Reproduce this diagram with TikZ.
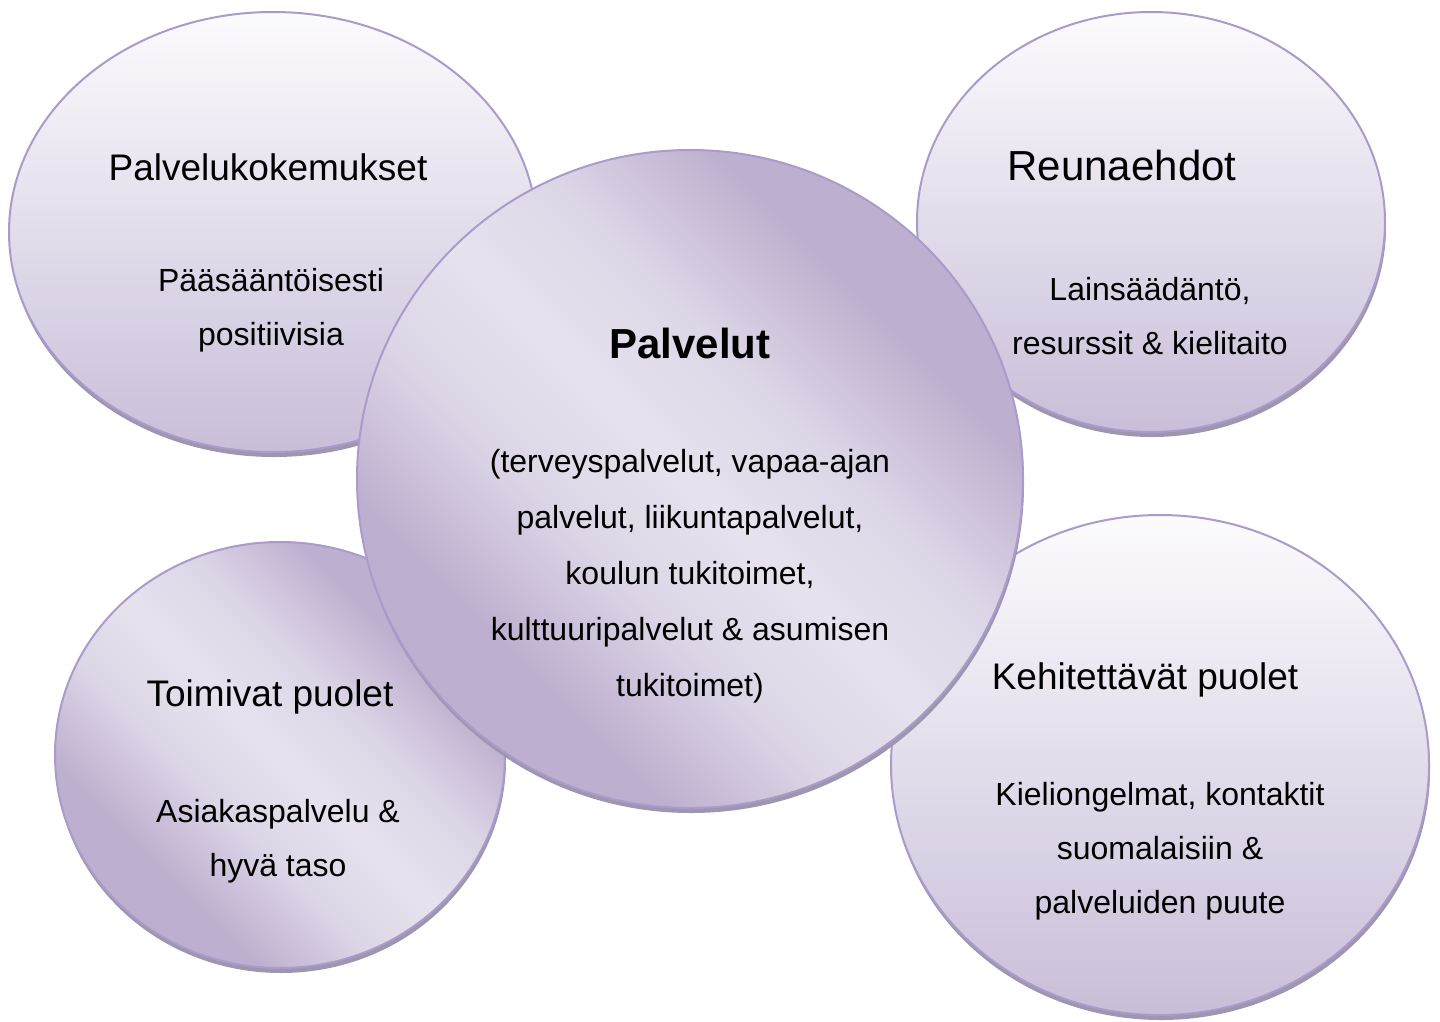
\documentclass[tikz,border=0pt]{standalone}
\usepackage{fontspec}
\setmainfont{Liberation Sans}
\usetikzlibrary{shapes.geometric,shadows}
\definecolor{bubbleline}{RGB}{170,155,202}
\definecolor{bubbleshadow}{RGB}{158,149,174}
\definecolor{bubbletop}{RGB}{252,251,253}
\definecolor{bubblebot}{RGB}{201,190,217}
\definecolor{bubbledark}{RGB}{189,175,207}
\definecolor{bubblelight}{RGB}{231,226,238}
\colorlet{bubblemid}{bubblelight!75!bubbledark}
\pgfdeclareverticalshading{bubbleV}{100bp}{color(0bp)=(bubblebot); color(25bp)=(bubblebot); color(75bp)=(bubbletop); color(100bp)=(bubbletop)}
\pgfdeclarehorizontalshading{bubbleX}{100bp}{color(0bp)=(bubbledark); color(31bp)=(bubbledark); color(41bp)=(bubblemid); color(50bp)=(bubblelight); color(59bp)=(bubblemid); color(69bp)=(bubbledark); color(100bp)=(bubbledark)}
\tikzset{
    bubble/.style={ellipse, draw=bubbleline, line width=2pt, inner sep=0pt, shade,
        drop shadow={shadow xshift=1pt, shadow yshift=-5pt, fill=bubbleshadow, opacity=1}},
    headlabel/.style={align=center, font=\fontsize{37}{44}\selectfont},
    bodylabel/.style={align=center, font=\fontsize{32}{54}\selectfont},
}
\begin{document}
\begin{tikzpicture}[x=1pt, y=1pt]
    \useasboundingbox (0,0) rectangle (1440,-1021);
    % outer bubbles
    \foreach \name/\x/\y/\w/\h/\sh/\ang in {tl/273/-232/528/440/bubbleV/0, tr/1151/-222/468/420/bubbleV/0,
        bl/280/-755/450/426/bubbleX/45, br/1160/-765/538/500/bubbleV/0} {
        \node[bubble, shading=\sh, shading angle=\ang, minimum width=\w pt, minimum height=\h pt] (\name) at (\x,\y) {};
    }
    % centre bubble on top
    \node[bubble, shading=bubbleX, shading angle=45, minimum width=666pt, minimum height=658pt] (hub) at (690,-479) {};

    \node[headlabel] (tlhead) at (268,-167) {Palvelukokemukset};
    \node[bodylabel] (tlbody) at (271,-310) {Pääsääntöisesti\\positiivisia};

    \node[font=\bfseries\fontsize{42}{50}\selectfont] (hubhead) at (690,-343) {Palvelut};
    \node[align=center, font=\fontsize{32}{56}\selectfont] (hubbody) at (690,-576)
        {(terveyspalvelut, vapaa-ajan\\palvelut, liikuntapalvelut,\\koulun tukitoimet,\\kulttuuripalvelut \& asumisen\\tukitoimet)};

    \node[headlabel, font=\fontsize{42}{50}\selectfont] (trhead) at (1122,-165) {Reunaehdot};
    \node[bodylabel] (trbody) at (1150,-316) {Lainsäädäntö,\\resurssit \& kielitaito};

    \node[headlabel] (blhead) at (270,-697) {Toimivat puolet};
    \node[bodylabel] (blbody) at (278,-841) {Asiakaspalvelu \&\\hyvä taso};

    \node[headlabel] (brhead) at (1145,-680) {Kehitettävät puolet};
    \node[bodylabel] (brbody) at (1160,-851) {Kieliongelmat, kontaktit\\suomalaisiin \&\\palveluiden puute};
\end{tikzpicture}
\end{document}
